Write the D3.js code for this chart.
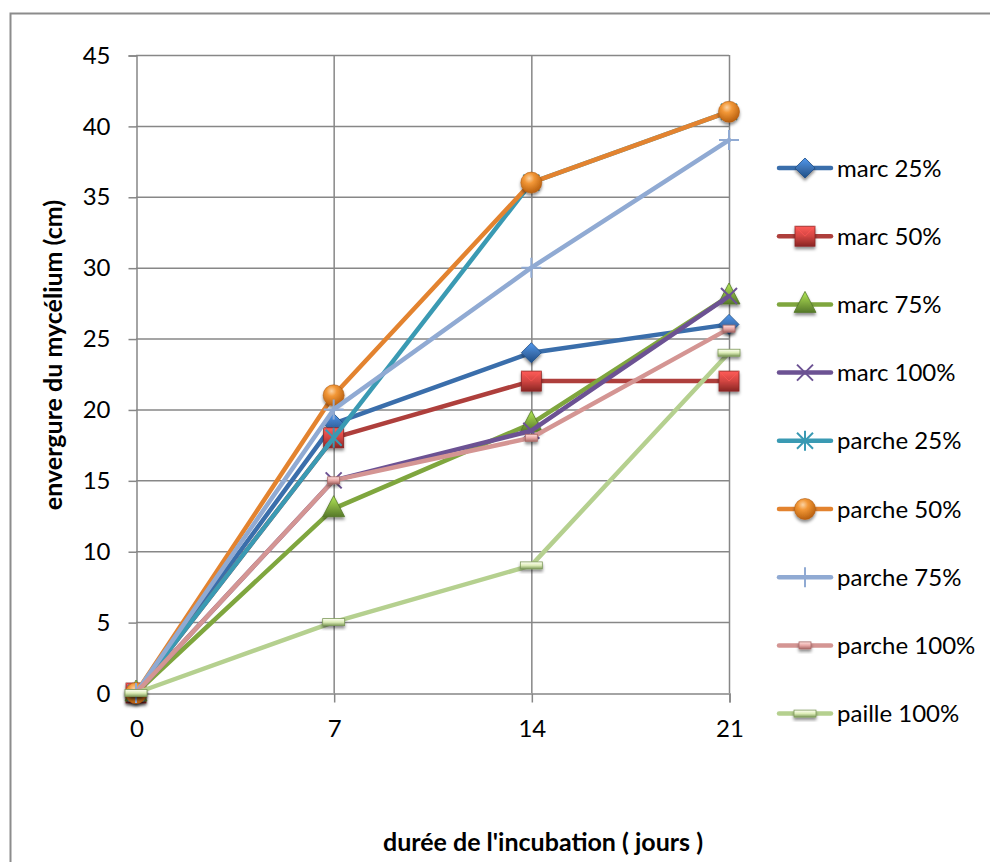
<!DOCTYPE html>
<html>
<head>
<meta charset="utf-8">
<script src="https://cdn.jsdelivr.net/npm/d3@7/dist/d3.min.js"></script>
<style>
  html, body { margin: 0; padding: 0; background: #ffffff; }
  svg { display: block; font-family: Lato, "Open Sans", sans-serif; }
</style>
</head>
<body>
<svg id="chart" width="990" height="862"></svg>
<script>
// Incubation days (categories)
const days = ["0", "7", "14", "21"];

// Series names
const seriesNames = [
  "marc 25%", "marc 50%", "marc 75%", "marc 100%",
  "parche 25%", "parche 50%", "parche 75%", "parche 100%", "paille 100%"
];

// Mycelium span (cm) per series, one value per day
const marc25 = [0, 19, 24, 26];
const marc50 = [0, 18, 22, 22];
const marc75 = [0, 13, 19, 28];
const marc100 = [0, 15, 18.5, 28];
const parche25 = [0, 18, 36, 41];
const parche50 = [0, 21, 36, 41];
const parche75 = [0, 20, 30, 39];
const parche100 = [0, 15, 18, 25.7];
const paille100 = [0, 5, 9, 24];

// Y axis ticks
const yTicks = [0, 5, 10, 15, 20, 25, 30, 35, 40, 45];

const seriesValues = [marc25, marc50, marc75, marc100, parche25, parche50, parche75, parche100, paille100];

const styles = [
  { line: "#3A6EAB", fill: "#3C72B4", dark: "#1F4E86", marker: "diamond" },
  { line: "#AE3F3C", fill: "#D24542", dark: "#8A2624", marker: "square" },
  { line: "#7FA63E", fill: "#86B040", dark: "#56792A", marker: "triangle" },
  { line: "#6C5293", fill: "#6C5293", dark: "#4E3A70", marker: "x" },
  { line: "#3A9AB3", fill: "#3A9AB3", dark: "#24788E", marker: "star" },
  { line: "#E3832F", fill: "#F08A2C", dark: "#B35E12", marker: "circle" },
  { line: "#90AAD3", fill: "#90AAD3", dark: "#6D8BBA", marker: "plus" },
  { line: "#D49593", fill: "#E8A9A7", dark: "#A86866", marker: "smallrect" },
  { line: "#B5D08F", fill: "#DDEDB8", dark: "#7E9A5A", marker: "widerect" }
];

const series = seriesNames.map((name, i) => ({
  name,
  values: seriesValues[i].map((v, j) => ({ day: days[j], v })),
  style: styles[i]
}));

const svg = d3.select("#chart");
const defs = svg.append("defs");

// Soft drop shadow for 3D-looking markers
const shadow = defs.append("filter").attr("id", "shadow")
  .attr("x", "-50%").attr("y", "-50%").attr("width", "200%").attr("height", "220%");
shadow.append("feDropShadow").attr("dx", 0).attr("dy", 2.5).attr("stdDeviation", 1.8)
  .attr("flood-color", "#000").attr("flood-opacity", 0.45);

// Gradients giving the bevelled marker look
styles.forEach((s, i) => {
  const g = defs.append("linearGradient").attr("id", "grad" + i)
    .attr("x1", "0").attr("y1", "0").attr("x2", "0").attr("y2", "1");
  g.append("stop").attr("offset", "0%").attr("stop-color", d3.color(s.fill).brighter(0.8));
  g.append("stop").attr("offset", "50%").attr("stop-color", s.fill);
  g.append("stop").attr("offset", "100%").attr("stop-color", s.dark);
});
const rg = defs.append("radialGradient").attr("id", "ball")
  .attr("cx", "40%").attr("cy", "30%").attr("r", "70%");
rg.append("stop").attr("offset", "0%").attr("stop-color", "#FBD3A4");
rg.append("stop").attr("offset", "35%").attr("stop-color", "#F29737");
rg.append("stop").attr("offset", "100%").attr("stop-color", "#B9600F");

// Outer chart frame
svg.append("rect").attr("x", 10.5).attr("y", 13.5).attr("width", 1000).attr("height", 900)
  .attr("fill", "none").attr("stroke", "#8C8C8C").attr("stroke-width", 2);

const x = d3.scalePoint().domain(days).range([136, 729]);
const y = d3.scaleLinear().domain([0, 45]).range([693, 55]);

const gridColor = "#878787";

// Horizontal gridlines
svg.append("g").selectAll("line").data(yTicks.filter(t => t > 0)).join("line")
  .attr("x1", 136).attr("x2", 729)
  .attr("y1", d => y(d) + 0.5).attr("y2", d => y(d) + 0.5)
  .attr("stroke", gridColor).attr("stroke-width", 1.5);

// Vertical gridlines
svg.append("g").selectAll("line").data(days.slice(1)).join("line")
  .attr("x1", d => x(d) + 0.5).attr("x2", d => x(d) + 0.5)
  .attr("y1", y(45)).attr("y2", y(0))
  .attr("stroke", gridColor).attr("stroke-width", 1.5);

// Y axis
const yAxis = svg.append("g").attr("transform", "translate(136.5,0.5)")
  .call(d3.axisLeft(y).tickValues(yTicks).tickSize(8).tickPadding(18));
// X axis
const xAxis = svg.append("g").attr("transform", `translate(0.5,${y(0) + 0.5})`)
  .call(d3.axisBottom(x).tickSize(9).tickPadding(17));

[yAxis, xAxis].forEach(a => {
  a.select(".domain").attr("stroke", gridColor).attr("stroke-width", 1.5);
  a.selectAll(".tick line").attr("stroke", gridColor).attr("stroke-width", 1.5);
  a.selectAll("text").attr("fill", "#000").style("font-size", "24px")
    .style("font-family", "Lato, 'Open Sans', sans-serif");
});

// Axis titles
svg.append("text").attr("x", 543).attr("y", 851).attr("text-anchor", "middle")
  .style("font-size", "25px").style("font-weight", "bold").text("durée de l'incubation ( jours )");
svg.append("text").attr("transform", "translate(62,355) rotate(-90)").attr("text-anchor", "middle")
  .style("font-size", "25px").style("font-weight", "bold").text("envergure du mycélium (cm)");

function drawMarker(g, s, i, cx, cy) {
  const m = s.marker;
  const fill = "url(#grad" + i + ")";
  if (m === "diamond") {
    g.append("path").attr("d", `M${cx},${cy - 10}L${cx + 10},${cy}L${cx},${cy + 10}L${cx - 10},${cy}Z`)
      .attr("fill", fill).attr("stroke", s.dark).attr("stroke-width", 0.8).attr("filter", "url(#shadow)");
  } else if (m === "square") {
    g.append("rect").attr("x", cx - 10).attr("y", cy - 10).attr("width", 20).attr("height", 20)
      .attr("fill", fill).attr("stroke", s.dark).attr("stroke-width", 0.8).attr("filter", "url(#shadow)");
    g.append("path").attr("d", `M${cx - 10},${cy - 10}L${cx},${cy}L${cx + 10},${cy - 10}`)
      .attr("fill", "none").attr("stroke", d3.color(s.fill).brighter(0.7)).attr("stroke-width", 1).attr("opacity", 0.7);
  } else if (m === "triangle") {
    g.append("path").attr("d", `M${cx},${cy - 13}L${cx + 11},${cy + 8}L${cx - 11},${cy + 8}Z`)
      .attr("fill", fill).attr("stroke", s.dark).attr("stroke-width", 0.8).attr("filter", "url(#shadow)");
  } else if (m === "x") {
    g.append("path").attr("d", `M${cx - 8},${cy - 8}L${cx + 8},${cy + 8}M${cx + 8},${cy - 8}L${cx - 8},${cy + 8}`)
      .attr("stroke", s.line).attr("stroke-width", 2);
  } else if (m === "star") {
    g.append("path").attr("d",
      `M${cx - 8},${cy - 8}L${cx + 8},${cy + 8}M${cx + 8},${cy - 8}L${cx - 8},${cy + 8}M${cx},${cy - 10}L${cx},${cy + 10}`)
      .attr("stroke", s.line).attr("stroke-width", 2);
  } else if (m === "circle") {
    g.append("circle").attr("cx", cx).attr("cy", cy).attr("r", 10.5)
      .attr("fill", "url(#ball)").attr("stroke", s.dark).attr("stroke-width", 0.6).attr("filter", "url(#shadow)");
  } else if (m === "plus") {
    g.append("path").attr("d", `M${cx - 10},${cy}L${cx + 10},${cy}M${cx},${cy - 10}L${cx},${cy + 10}`)
      .attr("stroke", s.line).attr("stroke-width", 2);
  } else if (m === "smallrect") {
    g.append("rect").attr("x", cx - 6).attr("y", cy - 3.5).attr("width", 12).attr("height", 7)
      .attr("fill", fill).attr("stroke", s.dark).attr("stroke-width", 0.8).attr("filter", "url(#shadow)");
  } else if (m === "widerect") {
    g.append("rect").attr("x", cx - 11).attr("y", cy - 3.5).attr("width", 22).attr("height", 7)
      .attr("fill", fill).attr("stroke", s.dark).attr("stroke-width", 0.8).attr("filter", "url(#shadow)");
  }
}

const line = d3.line().x(d => x(d.day)).y(d => y(d.v));

// Series: line then markers, in legend order
series.forEach((s, i) => {
  const g = svg.append("g");
  g.append("path").datum(s.values).attr("d", line)
    .attr("fill", "none").attr("stroke", s.style.line).attr("stroke-width", 4.5)
    .attr("stroke-linejoin", "round").attr("stroke-linecap", "round");
  s.values.forEach(d => drawMarker(g, s.style, i, x(d.day), y(d.v)));
});

// Legend
const legendTop = 168;
const legendStep = 68.2;
series.forEach((s, i) => {
  const ly = legendTop + i * legendStep;
  const g = svg.append("g");
  g.append("line").attr("x1", 779).attr("x2", 831).attr("y1", ly).attr("y2", ly)
    .attr("stroke", s.style.line).attr("stroke-width", 4.5).attr("stroke-linecap", "round");
  drawMarker(g, s.style, i, 805, ly);
  g.append("text").attr("x", 837).attr("y", ly + 8.5).style("font-size", "24px").attr("fill", "#000").text(s.name);
});
</script>
</body>
</html>
